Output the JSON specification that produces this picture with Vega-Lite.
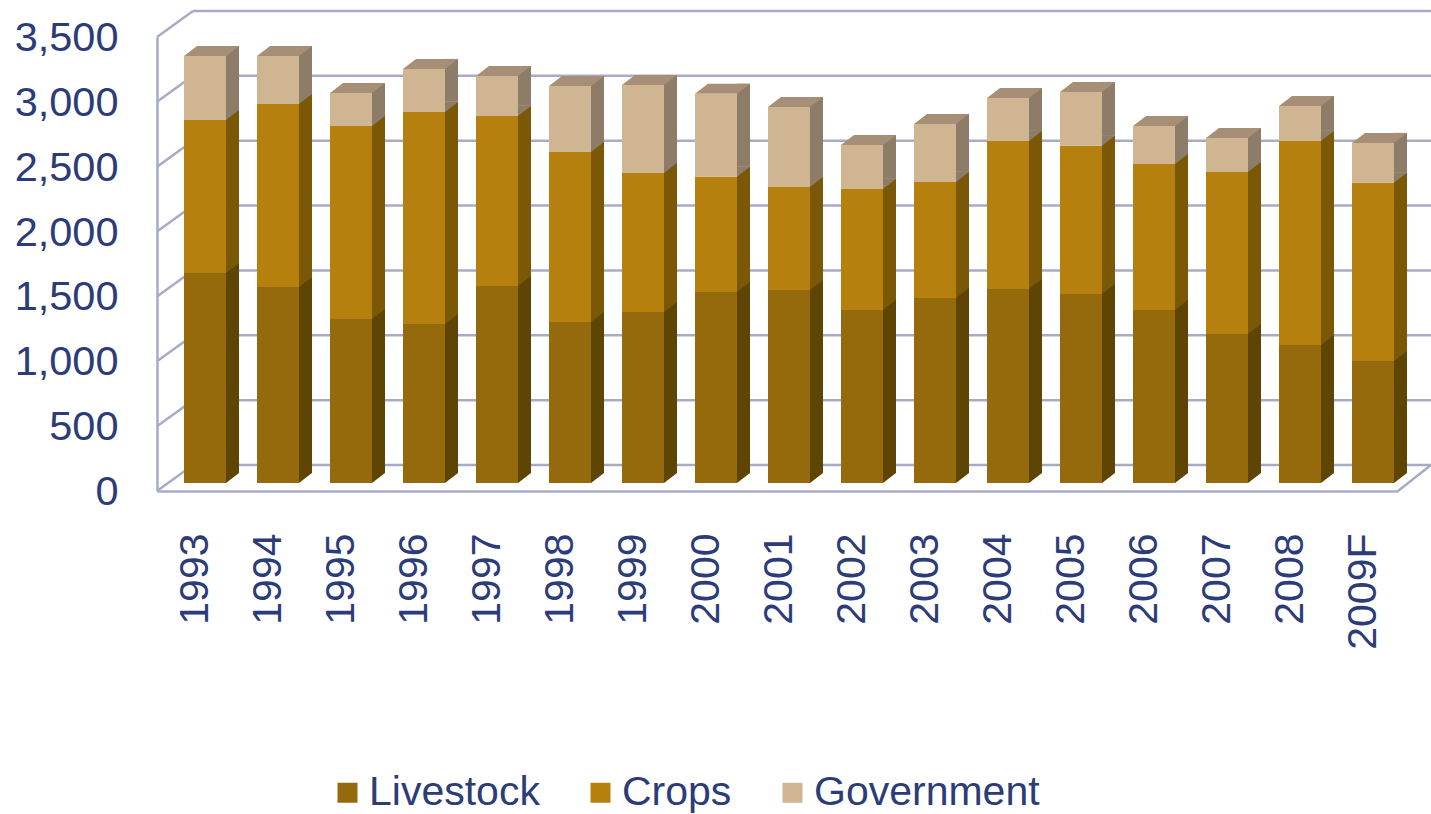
{
"$schema":"https://vega.github.io/schema/vega-lite/v6.json",
"width":1241,"height":454,
"autosize":{"type":"none"},
"padding":{"left":157,"top":37,"right":33,"bottom":323},
"background":"white",
"config":{"view":{"stroke":null},"font":"Liberation Sans"},
"datasets":{
"ticks":[{"tick":0},{"tick":500},{"tick":1000},{"tick":1500},{"tick":2000},{"tick":2500},{"tick":3000},{"tick":3500}],
"bars":[
{"year":"1993","type":"Livestock","order":1,"value":1619},{"year":"1993","type":"Crops","order":2,"value":1180},{"year":"1993","type":"Government","order":3,"value":493},
{"year":"1994","type":"Livestock","order":1,"value":1511},{"year":"1994","type":"Crops","order":2,"value":1411},{"year":"1994","type":"Government","order":3,"value":370},
{"year":"1995","type":"Livestock","order":1,"value":1264},{"year":"1995","type":"Crops","order":2,"value":1488},{"year":"1995","type":"Government","order":3,"value":254},
{"year":"1996","type":"Livestock","order":1,"value":1226},{"year":"1996","type":"Crops","order":2,"value":1635},{"year":"1996","type":"Government","order":3,"value":331},
{"year":"1997","type":"Livestock","order":1,"value":1519},{"year":"1997","type":"Crops","order":2,"value":1311},{"year":"1997","type":"Government","order":3,"value":308},
{"year":"1998","type":"Livestock","order":1,"value":1241},{"year":"1998","type":"Crops","order":2,"value":1311},{"year":"1998","type":"Government","order":3,"value":509},
{"year":"1999","type":"Livestock","order":1,"value":1318},{"year":"1999","type":"Crops","order":2,"value":1072},{"year":"1999","type":"Government","order":3,"value":678},
{"year":"2000","type":"Livestock","order":1,"value":1473},{"year":"2000","type":"Crops","order":2,"value":887},{"year":"2000","type":"Government","order":3,"value":640},
{"year":"2001","type":"Livestock","order":1,"value":1488},{"year":"2001","type":"Crops","order":2,"value":794},{"year":"2001","type":"Government","order":3,"value":617},
{"year":"2002","type":"Livestock","order":1,"value":1334},{"year":"2002","type":"Crops","order":2,"value":933},{"year":"2002","type":"Government","order":3,"value":339},
{"year":"2003","type":"Livestock","order":1,"value":1427},{"year":"2003","type":"Crops","order":2,"value":894},{"year":"2003","type":"Government","order":3,"value":447},
{"year":"2004","type":"Livestock","order":1,"value":1496},{"year":"2004","type":"Crops","order":2,"value":1141},{"year":"2004","type":"Government","order":3,"value":331},
{"year":"2005","type":"Livestock","order":1,"value":1458},{"year":"2005","type":"Crops","order":2,"value":1141},{"year":"2005","type":"Government","order":3,"value":416},
{"year":"2006","type":"Livestock","order":1,"value":1334},{"year":"2006","type":"Crops","order":2,"value":1125},{"year":"2006","type":"Government","order":3,"value":293},
{"year":"2007","type":"Livestock","order":1,"value":1148},{"year":"2007","type":"Crops","order":2,"value":1249},{"year":"2007","type":"Government","order":3,"value":262},
{"year":"2008","type":"Livestock","order":1,"value":1064},{"year":"2008","type":"Crops","order":2,"value":1573},{"year":"2008","type":"Government","order":3,"value":269},
{"year":"2009F","type":"Livestock","order":1,"value":941},{"year":"2009F","type":"Crops","order":2,"value":1373},{"year":"2009F","type":"Government","order":3,"value":308}
]},
"encoding":{
"x":{"field":"year","type":"nominal","scale":{"domain":["1993","1994","1995","1996","1997","1998","1999","2000","2001","2002","2003","2004","2005","2006","2007","2008","2009F"],"paddingInner":0,"paddingOuter":0}}
},
"layer":[
{"data":{"name":"ticks"},
 "mark":{"type":"rule","color":"#a8abc6","strokeWidth":2.5,"xOffset":36,"x2Offset":36,"yOffset":-26,"y2Offset":-26},
 "encoding":{"x":{"value":0},"x2":{"value":1241},
  "y":{"field":"tick","type":"quantitative","scale":{"domain":[0,3500]},
   "axis":{"values":[0,500,1000,1500,2000,2500,3000,3500],"format":",.0f","title":null,"grid":false,"ticks":false,"domainColor":"#a8abc6","domainWidth":2.5,"labelFont":"Liberation Sans","labelFontSize":41.5,"labelColor":"#2c3c78","labelPadding":39,"labelOffset":1.5}}}},
{"data":{"name":"ticks"},
 "mark":{"type":"point","filled":false,"stroke":"#a8abc6","strokeWidth":2.5,"size":4,"opacity":1,"shape":"M-36.5 0L-0.5 -26"},
 "encoding":{"x":{"datum":"1993"},"y":{"field":"tick","type":"quantitative"}}},
{"data":{"name":"ticks"},"transform":[{"filter":"datum.tick==0"}],
 "mark":{"type":"point","filled":false,"stroke":"#a8abc6","strokeWidth":2.5,"size":4,"opacity":1,"shape":"M36.5 0L69.5 -26"},
 "encoding":{"x":{"datum":"2009F","axis":{"title":null,"ticks":false,"domainColor":"#a8abc6","domainWidth":2.5,"labelAngle":270,"labelAlign":"right","labelBaseline":"middle","labelFont":"Liberation Sans","labelFontSize":41,"labelColor":"#2c3c78","labelPadding":42,"labelOffset":2}},"y":{"field":"tick","type":"quantitative"}}},
{"data":{"name":"bars"},
 "transform":[{"stack":"value","groupby":["year"],"sort":[{"field":"order","order":"ascending"}],"as":["y0","y1"]}],
 "encoding":{"y":{"field":"y1","type":"quantitative"},"y2":{"field":"y0"}},
 "layer":[
  {"mark":{"type":"bar","width":13,"xOffset":39,"x2Offset":39,"yOffset":-18,"y2Offset":-18},
   "encoding":{"color":{"field":"type","type":"nominal","legend":null,"scale":{"domain":["Livestock","Crops","Government"],"range":["#5f4504","#7a5806","#8d7d68"]}}}},
  {"mark":{"type":"point","filled":true,"size":4,"opacity":1,"strokeWidth":0,"yOffset":-8,"shape":"M32.5 0L45.5 -10L32.5 -10Z"},
   "encoding":{"y":{"field":"y0","type":"quantitative"},"y2":null,"color":{"field":"type","type":"nominal","legend":null,"scale":{"domain":["Livestock","Crops","Government"],"range":["#5f4504","#7a5806","#8d7d68"]}}}},
  {"transform":[{"filter":"datum.type=='Government'"}],
   "mark":{"type":"point","filled":true,"size":4,"opacity":1,"strokeWidth":0,"yOffset":-8,"fill":"#a68f76","shape":"M-9.5 0L32.5 0L45.5 -10L3.5 -10Z"},
   "encoding":{"y2":null}},
  {"mark":{"type":"bar","width":42,"xOffset":11.5,"x2Offset":11.5,"yOffset":-8,"y2Offset":-8},
   "encoding":{"color":{"field":"type","type":"nominal","sort":null,"scale":{"domain":["Livestock","Crops","Government"],"range":["#946a0c","#b5800e","#d0b592"]},
    "legend":{"title":null,"orient":"none","legendX":170,"legendY":735,"direction":"horizontal","columns":3,"symbolType":"square","symbolSize":400,"symbolStrokeWidth":0,"labelFont":"Liberation Sans","labelFontSize":41,"labelColor":"#2c3c78","labelOffset":1,"labelLimit":400,"columnPadding":40}}}}
 ],
 "resolve":{"scale":{"color":"independent"}}
}
],
"resolve":{"scale":{"color":"independent"}}
}
